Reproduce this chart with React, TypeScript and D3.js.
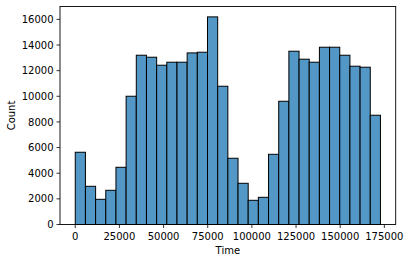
import React from "react";
import * as d3 from "d3";

const binCounts = [5635, 2980, 1965, 2667, 4462, 10004, 13203, 13048, 12424, 12658, 12658, 13384, 13437, 16194, 10784, 5166, 3214, 1887, 2121, 5476, 9612, 13515, 12893, 12658, 13827, 13827, 13203, 12346, 12268, 8522];
const timeMin = 0;
const timeMax = 172792;
const xTicks = [0, 25000, 50000, 75000, 100000, 125000, 150000, 175000];
const yTicks = [0, 2000, 4000, 6000, 8000, 10000, 12000, 14000, 16000];

const W = 409, H = 262;
const left = 60, right = 395.7, top = 6.5, bottom = 224.5;

export default function App() {
  const n = binCounts.length;
  const bw = (timeMax - timeMin) / n;
  const pad = (timeMax - timeMin) * 0.05;
  const x = d3.scaleLinear().domain([timeMin - pad, timeMax + pad]).range([left, right]);
  const yMax = (d3.max(binCounts) as number) * 1.05;
  const y = d3.scaleLinear().domain([0, yMax]).range([bottom, top]);
  const font = "DejaVu Sans, sans-serif";
  return (
    <svg width={W} height={H} style={{ position: "absolute", left: 0, top: 0, background: "#fff" }} fontFamily={font}>
      <rect x={0} y={0} width={W} height={H} fill="#fff" />
      {binCounts.map((c, i) => (
        <rect key={i} x={x(timeMin + i * bw)} y={y(c)} width={x(timeMin + (i + 1) * bw) - x(timeMin + i * bw)} height={y(0) - y(c)}
          fill="rgb(82,151,197)" stroke="#000" strokeWidth={1} />
      ))}
      <rect x={left} y={top} width={right - left} height={bottom - top} fill="none" stroke="#000" strokeWidth={0.9} />
      {xTicks.map((t) => (
        <g key={t}>
          <line x1={x(t)} x2={x(t)} y1={bottom} y2={bottom + 3.5} stroke="#000" strokeWidth={0.8} />
          <text x={x(t)} y={bottom + 15} fontSize={10} textAnchor="middle" fill="#000">{t}</text>
        </g>
      ))}
      {yTicks.map((t) => (
        <g key={t}>
          <line x1={left - 3.5} x2={left} y1={y(t)} y2={y(t)} stroke="#000" strokeWidth={0.8} />
          <text x={left - 6.5} y={y(t) + 3.6} fontSize={10} textAnchor="end" fill="#000">{t}</text>
        </g>
      ))}
      <text x={(left + right) / 2} y={254} fontSize={10} textAnchor="middle" fill="#000">Time</text>
      <text transform={`translate(15,${(top + bottom) / 2}) rotate(-90)`} fontSize={10} textAnchor="middle" fill="#000">Count</text>
    </svg>
  );
}
